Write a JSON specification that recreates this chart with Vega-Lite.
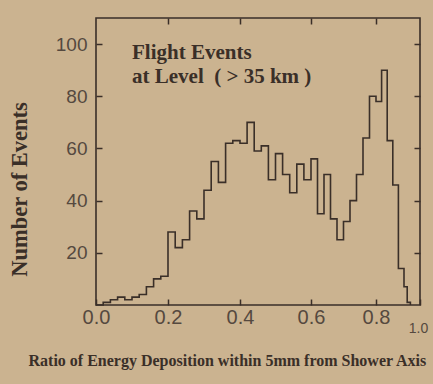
{
  "$schema": "https://vega.github.io/schema/vega-lite/v6.json",
  "width": 324,
  "height": 287,
  "autosize": {"type": "none"},
  "padding": {"left": 96, "top": 18, "right": 13, "bottom": 79},
  "background": "#cbb390",
  "config": {
    "view": {"stroke": "#3a2f28", "strokeWidth": 1.6},
    "axis": {
      "labelFlush": false,
      "labelOverlap": false,
      "labelFont": "Liberation Sans",
      "labelColor": "#55493f",
      "titleFont": "Liberation Serif",
      "titleFontWeight": "bold",
      "titleColor": "#3a2f28"
    }
  },
  "datasets": {
    "hist": [
      {"ratio": 0.00, "events": 0},
      {"ratio": 0.02, "events": 1},
      {"ratio": 0.04, "events": 2},
      {"ratio": 0.06, "events": 3},
      {"ratio": 0.08, "events": 2},
      {"ratio": 0.10, "events": 3},
      {"ratio": 0.12, "events": 4},
      {"ratio": 0.14, "events": 7},
      {"ratio": 0.16, "events": 10},
      {"ratio": 0.18, "events": 11},
      {"ratio": 0.20, "events": 28},
      {"ratio": 0.22, "events": 22},
      {"ratio": 0.24, "events": 25},
      {"ratio": 0.26, "events": 36},
      {"ratio": 0.28, "events": 33},
      {"ratio": 0.30, "events": 44},
      {"ratio": 0.32, "events": 55},
      {"ratio": 0.34, "events": 47},
      {"ratio": 0.36, "events": 62},
      {"ratio": 0.38, "events": 63},
      {"ratio": 0.40, "events": 62},
      {"ratio": 0.42, "events": 70},
      {"ratio": 0.44, "events": 59},
      {"ratio": 0.46, "events": 61},
      {"ratio": 0.48, "events": 48},
      {"ratio": 0.50, "events": 58},
      {"ratio": 0.52, "events": 50},
      {"ratio": 0.54, "events": 43},
      {"ratio": 0.56, "events": 54},
      {"ratio": 0.58, "events": 48},
      {"ratio": 0.60, "events": 56},
      {"ratio": 0.62, "events": 35},
      {"ratio": 0.64, "events": 50},
      {"ratio": 0.66, "events": 33},
      {"ratio": 0.68, "events": 25},
      {"ratio": 0.70, "events": 32},
      {"ratio": 0.72, "events": 40},
      {"ratio": 0.74, "events": 50},
      {"ratio": 0.76, "events": 64},
      {"ratio": 0.78, "events": 80},
      {"ratio": 0.80, "events": 78},
      {"ratio": 0.82, "events": 90},
      {"ratio": 0.84, "events": 63},
      {"ratio": 0.86, "events": 46},
      {"ratio": 0.88, "events": 14},
      {"ratio": 0.90, "events": 7},
      {"ratio": 0.92, "events": 1},
      {"ratio": 0.94, "events": 0}
    ],
    "notes": [
      {"ratio": 0.1, "events": 96.5, "label": "Flight Events"},
      {"ratio": 0.1, "events": 87.3, "label": "at Level\u00a0\u00a0( > 35 km )"}
    ]
  },
  "layer": [
    {
      "data": {"name": "hist"},
      "mark": {"type": "line", "interpolate": "step-after", "color": "#3a2f28", "strokeWidth": 1.6},
      "encoding": {
        "x": {
          "field": "ratio", "type": "quantitative",
          "scale": {"domain": [0, 0.2, 0.4, 0.6, 0.8, 0.9, 1.0], "range": [0, 72, 144, 215, 280, 308, 324]},
          "axis": {
            "orient": "bottom",
            "values": [0, 0.2, 0.4, 0.6, 0.8, 1.0],
            "domain": false,
            "ticks": true,
            "tickSize": -6,
            "tickColor": "#3a2f28",
            "tickWidth": 1.5,
            "grid": false,
            "format": ".1f",
            "labelFontSize": {"condition": {"test": "datum.value > 0.95", "value": 14}, "value": 20},
            "labelOffset": {"condition": {"test": "datum.value > 0.95", "value": -2}, "value": 0},
            "labelPadding": {"condition": {"test": "datum.value > 0.95", "value": 22}, "value": 8},
            "title": "Ratio of Energy Deposition within 5mm from Shower Axis",
            "titleFontSize": 16,
            "titleAnchor": "start",
            "titleAlign": "left",
            "titleBaseline": "middle",
            "titleX": -68,
            "titleY": 55
          }
        },
        "y": {
          "field": "events", "type": "quantitative",
          "scale": {"domain": [0, 110]},
          "axis": {
            "orient": "left",
            "values": [20, 40, 60, 80, 100],
            "domain": false,
            "ticks": true,
            "tickSize": -6,
            "tickColor": "#3a2f28",
            "tickWidth": 1.5,
            "grid": false,
            "labelFontSize": 19,
            "labelPadding": 15,
            "title": "Number of Events",
            "titleFontSize": 22.5,
            "titleAngle": -90,
            "titleAlign": "center",
            "titleBaseline": "middle",
            "titleX": -77,
            "titleY": 171
          }
        }
      }
    },
    {
      "data": {"name": "hist"},
      "mark": {"type": "line", "interpolate": "step-after", "strokeOpacity": 0},
      "encoding": {
        "x": {
          "field": "ratio", "type": "quantitative",
          "scale": {"domain": [0, 0.2, 0.4, 0.6, 0.8, 0.9, 1.0], "range": [0, 72, 144, 215, 280, 308, 324]},
          "axis": {"orient": "top", "values": [0.2, 0.4, 0.6, 0.8], "domain": false, "ticks": true, "tickSize": -6, "tickColor": "#3a2f28", "tickWidth": 1.5, "grid": false, "labels": false, "title": null}
        },
        "y": {
          "field": "events", "type": "quantitative",
          "scale": {"domain": [0, 110]},
          "axis": {"orient": "right", "values": [20, 40, 60, 80, 100], "domain": false, "ticks": true, "tickSize": -6, "tickColor": "#3a2f28", "tickWidth": 1.5, "grid": false, "labels": false, "title": null}
        }
      }
    },
    {
      "data": {"name": "notes"},
      "mark": {"type": "text", "align": "left", "baseline": "middle", "font": "Liberation Serif", "fontWeight": "bold", "fontSize": 21, "color": "#3a2f28"},
      "encoding": {
        "x": {"field": "ratio", "type": "quantitative", "scale": {"domain": [0, 0.2, 0.4, 0.6, 0.8, 0.9, 1.0], "range": [0, 72, 144, 215, 280, 308, 324]}, "axis": null},
        "y": {"field": "events", "type": "quantitative", "scale": {"domain": [0, 110]}, "axis": null},
        "text": {"field": "label"}
      }
    }
  ],
  "resolve": {"axis": {"x": "independent", "y": "independent"}}
}
